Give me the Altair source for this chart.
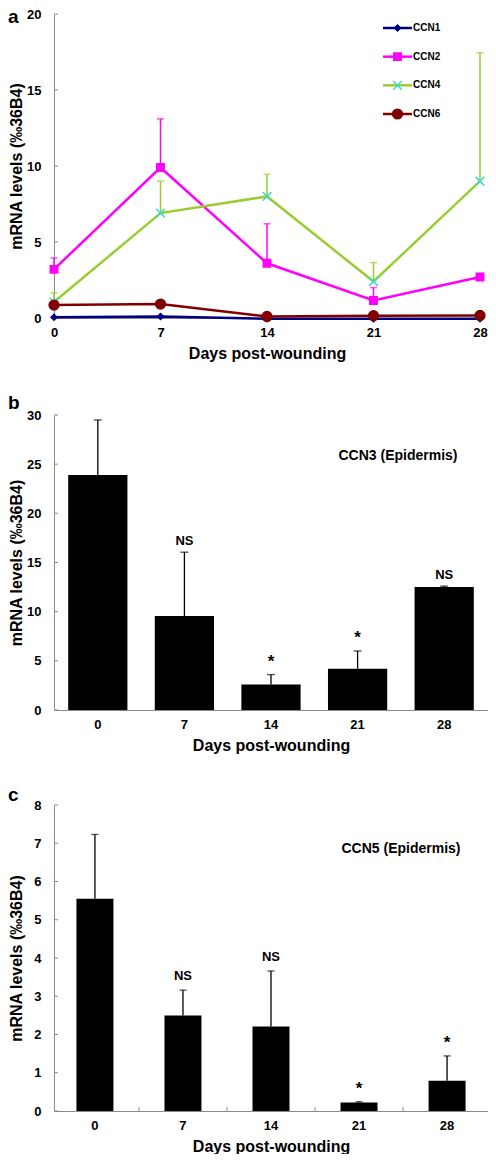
import altair as alt
import pandas as pd

# ---------------- data ----------------
days = [0, 7, 14, 21, 28]
series = ["CCN1", "CCN2", "CCN4", "CCN6"]
legend_order = [0, 1, 2, 3]
ccn1 = [0.05, 0.1, -0.05, -0.05, -0.05]
ccn2 = [3.2, 9.9, 3.6, 1.15, 2.7]
ccn2_err = [0.75, 3.2, 2.6, 0.85, 0.0]
ccn4 = [1.05, 6.9, 8.0, 2.4, 9.0]
ccn4_err = [0.6, 2.1, 1.45, 1.25, 8.45]
ccn6 = [0.85, 0.92, 0.1, 0.15, 0.17]

ccn3 = [23.9, 9.55, 2.6, 4.2, 12.5]
ccn3_err = [5.6, 6.5, 1.0, 1.8, 0.1]
ccn3_sig = ["", "NS", "*", "*", "NS"]

ccn5 = [5.55, 2.5, 2.21, 0.22, 0.79]
ccn5_err = [1.68, 0.66, 1.45, 0.02, 0.65]
ccn5_sig = ["", "NS", "NS", "*", "*"]

yticks_a = [0, 5, 10, 15, 20]
yticks_b = [0, 5, 10, 15, 20, 25, 30]
yticks_c = [0, 1, 2, 3, 4, 5, 6, 7, 8]

line_colors = ["#000080", "#FF00FF", "#9ACD32", "#800000"]
marker_colors = ["#000080", "#FF00FF", "#3FD6D0", "#800000"]
marker_shapes = ["diamond", "square", "M-1,-1L1,1M-1,1L1,-1", "circle"]
marker_sizes = [35, 95, 70, 75]

FONT = "Liberation Sans"
AXIS_GREY = "#8a8a8a"
YTITLE = "mRNA levels (‰36B4)"
XTITLE = "Days post-wounding"

# ---------------- panel a ----------------
vals = {"CCN1": ccn1, "CCN2": ccn2, "CCN4": ccn4, "CCN6": ccn6}
errs = {"CCN1": [0] * 5, "CCN2": ccn2_err, "CCN4": ccn4_err, "CCN6": [0] * 5}
rows = []
for s in series:
    for d, v, e in zip(days, vals[s], errs[s]):
        rows.append({"series": s, "day": d, "value": v, "err": e, "upper": v + e})
df_a = pd.DataFrame(rows)
df_a_err = df_a[df_a["err"] > 0]

WA, HA = 426, 304
x_a_axis = alt.Axis(values=days, title=XTITLE, grid=False, ticks=False, labelPadding=8,
                    titlePadding=6, domainColor=AXIS_GREY, labelFlush=False)
x_a = alt.X("day:Q", scale=alt.Scale(domain=[0, 28], nice=False, zero=False), axis=x_a_axis)
y_a_scale = alt.Scale(domain=[0, 20], nice=False)
y_a_axis = alt.Axis(values=yticks_a, title=YTITLE, grid=False, ticks=False, labelPadding=13,
                    minExtent=28, maxExtent=28, titlePadding=2, domainColor=AXIS_GREY)

color_enc = alt.Color("series:N", scale=alt.Scale(domain=series, range=line_colors), legend=None)
fill_enc = alt.Fill("series:N", scale=alt.Scale(domain=series, range=marker_colors), legend=None)
stroke_enc = alt.Stroke("series:N", scale=alt.Scale(domain=series, range=marker_colors), legend=None)
shape_enc = alt.Shape("series:N", scale=alt.Scale(domain=series, range=marker_shapes), legend=None)
size_enc = alt.Size("series:N", scale=alt.Scale(domain=series, range=marker_sizes), legend=None)

err_a = alt.Chart(df_a_err).mark_rule(strokeWidth=1.5).encode(
    x=x_a, y=alt.Y("value:Q", scale=y_a_scale, axis=y_a_axis), y2="upper:Q", color=color_enc)
cap_a = alt.Chart(df_a_err).mark_tick(orient="horizontal", size=7, thickness=1.5).encode(
    x=x_a, y=alt.Y("upper:Q", scale=y_a_scale, axis=y_a_axis), color=color_enc)
line_a = alt.Chart(df_a).mark_line(strokeWidth=2.5).encode(
    x=x_a, y=alt.Y("value:Q", scale=y_a_scale, axis=y_a_axis), color=color_enc, detail="series:N")
pts_a = alt.Chart(df_a).mark_point(filled=True, opacity=1, strokeWidth=1.5).encode(
    x=x_a, y=alt.Y("value:Q", scale=y_a_scale, axis=y_a_axis),
    fill=fill_enc, stroke=stroke_enc, shape=shape_enc, size=size_enc)
ytick_a = alt.Chart(pd.DataFrame({"value": yticks_a})).mark_rule(color=AXIS_GREY).encode(
    y=alt.Y("value:Q", scale=y_a_scale, axis=y_a_axis), x=alt.value(0), x2=alt.value(4))
letter_a = alt.Chart(pd.DataFrame({"t": ["a"]})).mark_text(
    align="left", baseline="alphabetic", fontSize=19, fontWeight="bold", font=FONT, color="black"
).encode(text="t:N", x=alt.value(-46), y=alt.value(9))

main_a = alt.layer(ytick_a, err_a, cap_a, line_a, pts_a, letter_a)

df_leg = pd.DataFrame({"series": series, "idx": legend_order})
leg_y = alt.Y("idx:Q", scale=alt.Scale(domain=[0, 3], range=[14, 100]), axis=None)
leg_rule = alt.Chart(df_leg).mark_rule(strokeWidth=2.5).encode(
    x=alt.value(329), x2=alt.value(358), y=leg_y, color=color_enc)
leg_pts = alt.Chart(df_leg).mark_point(filled=True, opacity=1, strokeWidth=1.5).encode(
    x=alt.value(343.5), y=leg_y, fill=fill_enc, stroke=stroke_enc, shape=shape_enc, size=size_enc)
leg_txt = alt.Chart(df_leg).mark_text(
    align="left", baseline="middle", fontSize=10, fontWeight="bold", font=FONT, color="black"
).encode(x=alt.value(359), y=leg_y, text="series:N")
legend_a = alt.layer(leg_rule, leg_pts, leg_txt)

panel_a = alt.layer(main_a, legend_a).resolve_scale(y="independent").properties(width=WA, height=HA)


# ---------------- bar panels ----------------
def bar_panel(letter, vals_, errs_, sig_, yticks, ymax, label, width, height,
              pad_inner, pad_outer, label_xy, letter_xy, mid_ticks, cap_size, ns_dy):
    df = pd.DataFrame({"day": days, "value": vals_, "err": errs_, "sig": sig_})
    df["upper"] = df["value"] + df["err"]
    x_enc = alt.X("day:O", scale=alt.Scale(paddingInner=pad_inner, paddingOuter=pad_outer),
                  axis=alt.Axis(title=XTITLE, ticks=False, labelAngle=0, labelPadding=8,
                                titlePadding=6, domainColor=AXIS_GREY))
    y_scale = alt.Scale(domain=[0, ymax], nice=False)
    y_axis = alt.Axis(values=yticks, title=YTITLE, grid=False, ticks=False, labelPadding=13,
                      minExtent=28, maxExtent=28, titlePadding=2, domainColor=AXIS_GREY)
    y_up = alt.Y("upper:Q", scale=y_scale, axis=y_axis)
    bars = alt.Chart(df).mark_bar(color="black").encode(
        x=x_enc, y=alt.Y("value:Q", scale=y_scale, axis=y_axis))
    err = alt.Chart(df).mark_rule(color="black", strokeWidth=1.3).encode(
        x=x_enc, y=alt.Y("value:Q", scale=y_scale, axis=y_axis), y2="upper:Q")
    cap = alt.Chart(df).mark_tick(orient="horizontal", size=cap_size, thickness=1.3, color="black").encode(
        x=x_enc, y=y_up)
    ns = alt.Chart(df).transform_filter(alt.datum.sig == "NS").mark_text(
        baseline="bottom", dy=ns_dy, fontSize=13, fontWeight="bold", font=FONT, color="black"
    ).encode(x=x_enc, y=y_up, text="sig:N")
    star = alt.Chart(df).transform_filter(alt.datum.sig == "*").mark_text(
        baseline="bottom", dy=-4, fontSize=17, fontWeight="bold", font=FONT, color="black"
    ).encode(x=x_enc, y=y_up, text="sig:N")
    ytick = alt.Chart(pd.DataFrame({"value": yticks})).mark_rule(color=AXIS_GREY).encode(
        y=alt.Y("value:Q", scale=y_scale, axis=y_axis), x=alt.value(0), x2=alt.value(4))
    lab = alt.Chart(pd.DataFrame({"t": [label]})).mark_text(
        align="center", baseline="middle", fontSize=14, fontWeight="bold", font=FONT, color="black"
    ).encode(text="t:N", x=alt.value(label_xy[0]), y=alt.value(label_xy[1]))
    let = alt.Chart(pd.DataFrame({"t": [letter]})).mark_text(
        align="left", baseline="alphabetic", fontSize=19, fontWeight="bold", font=FONT, color="black"
    ).encode(text="t:N", x=alt.value(letter_xy[0]), y=alt.value(letter_xy[1]))
    layers = [ytick, bars, err, cap, ns, star, lab, let]
    if mid_ticks:
        mt = alt.Chart(pd.DataFrame({"day": days[:-1]})).mark_rule(
            color=AXIS_GREY, xOffset=mid_ticks).encode(
            x=x_enc, y=alt.value(height), y2=alt.value(height - 4))
        layers.insert(0, mt)
    return alt.layer(*layers).properties(width=width, height=height)


panel_b = bar_panel("b", ccn3, ccn3_err, ccn3_sig, yticks_b, 30, "CCN3 (Epidermis)",
                    434, 295, 0.316, 0.164, (344, 41), (-46, -6), None, 8, -4)
panel_c = bar_panel("c", ccn5, ccn5_err, ccn5_sig, yticks_c, 8, "CCN5 (Epidermis)",
                    434, 306, 0.58, 0.255, (347, 44), (-46, -4), 44.0, 7, -7)

chart = alt.vconcat(panel_a, panel_b, panel_c, spacing=33).properties(
    padding=0
).configure(padding=0).configure_view(stroke=None).configure_axis(
    labelFont=FONT, labelFontSize=13, labelFontWeight="bold", labelColor="black",
    titleFont=FONT, titleFontSize=16, titleFontWeight="bold", titleColor="black"
)

chart.save("out.html", embed_options={"renderer": "svg", "actions": False})
